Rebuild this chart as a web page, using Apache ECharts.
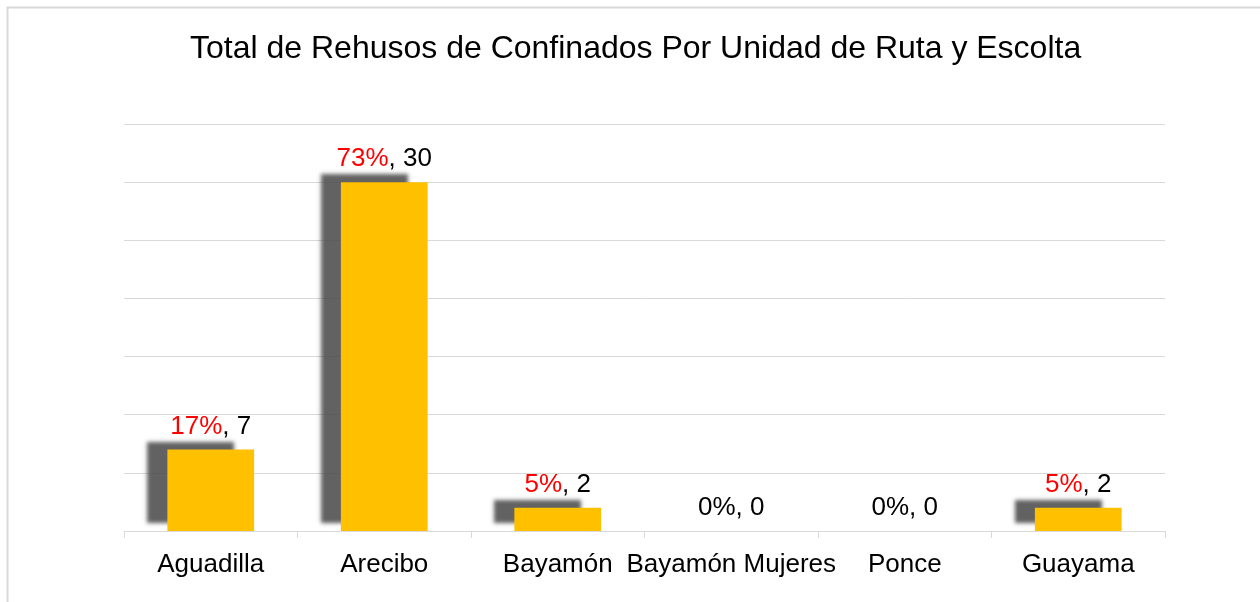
<!DOCTYPE html>
<html>
<head>
<meta charset="utf-8">
<script src="https://cdn.jsdelivr.net/npm/echarts@6/dist/echarts.min.js"></script>
<style>
html,body{margin:0;padding:0;background:#fff;}
#chart{width:1260px;height:602px;}
</style>
</head>
<body>
<div id="chart"></div>
<script>
var titleText = 'Total de Rehusos de Confinados Por Unidad de Ruta y Escolta';
var categories = ['Aguadilla', 'Arecibo', 'Bayamón', 'Bayamón Mujeres', 'Ponce', 'Guayama'];
var values = [7, 30, 2, 0, 0, 2];
var percents = ['17%', '73%', '5%', '0%', '0%', '5%'];

var chart = echarts.init(document.getElementById('chart'), null, {renderer: 'canvas'});
var font = '"Liberation Sans", Arial, sans-serif';
chart.setOption({
  animation: false,
  backgroundColor: '#fff',
  graphic: [{
    type: 'rect',
    shape: {x: 7.5, y: 7.5, width: 1300, height: 700},
    style: {fill: 'none', stroke: '#d9d9d9', lineWidth: 2},
    silent: true
  }],
  title: {
    text: titleText,
    left: 185,
    top: 28,
    textStyle: {fontFamily: font, fontSize: 32, fontWeight: 'normal', color: '#000'}
  },
  grid: {left: 124, right: 95, top: 124, bottom: 71, containLabel: false},
  xAxis: {
    type: 'category',
    data: categories,
    axisLine: {lineStyle: {color: '#d9d9d9', width: 1}},
    axisTick: {show: true, length: 7, lineStyle: {color: '#d9d9d9'}},
    axisLabel: {fontFamily: font, fontSize: 26, color: '#000', margin: 21, interval: 0}
  },
  yAxis: {
    type: 'value',
    min: 0, max: 35, interval: 5,
    axisLabel: {show: false},
    axisLine: {show: false},
    axisTick: {show: false},
    splitLine: {lineStyle: {color: '#d9d9d9', width: 1}}
  },
  series: [{
    type: 'bar',
    data: values,
    barWidth: '50%',
    itemStyle: {
      color: '#FFC000',
      shadowColor: 'rgba(70,70,70,0.85)',
      shadowBlur: 4,
      shadowOffsetX: -20,
      shadowOffsetY: -8
    },
    label: {
      show: true,
      position: 'top',
      distance: 10,
      fontFamily: font,
      fontSize: 26,
      color: '#000',
      formatter: function (p) {
        var pc = percents[p.dataIndex];
        var style = p.value > 0 ? 'r' : 'k';
        return '{' + style + '|' + pc + '}{k|, ' + p.value + '}';
      },
      rich: {
        r: {color: '#ff0000', fontFamily: font, fontSize: 26},
        k: {color: '#000', fontFamily: font, fontSize: 26}
      }
    }
  }]
});
</script>
</body>
</html>
